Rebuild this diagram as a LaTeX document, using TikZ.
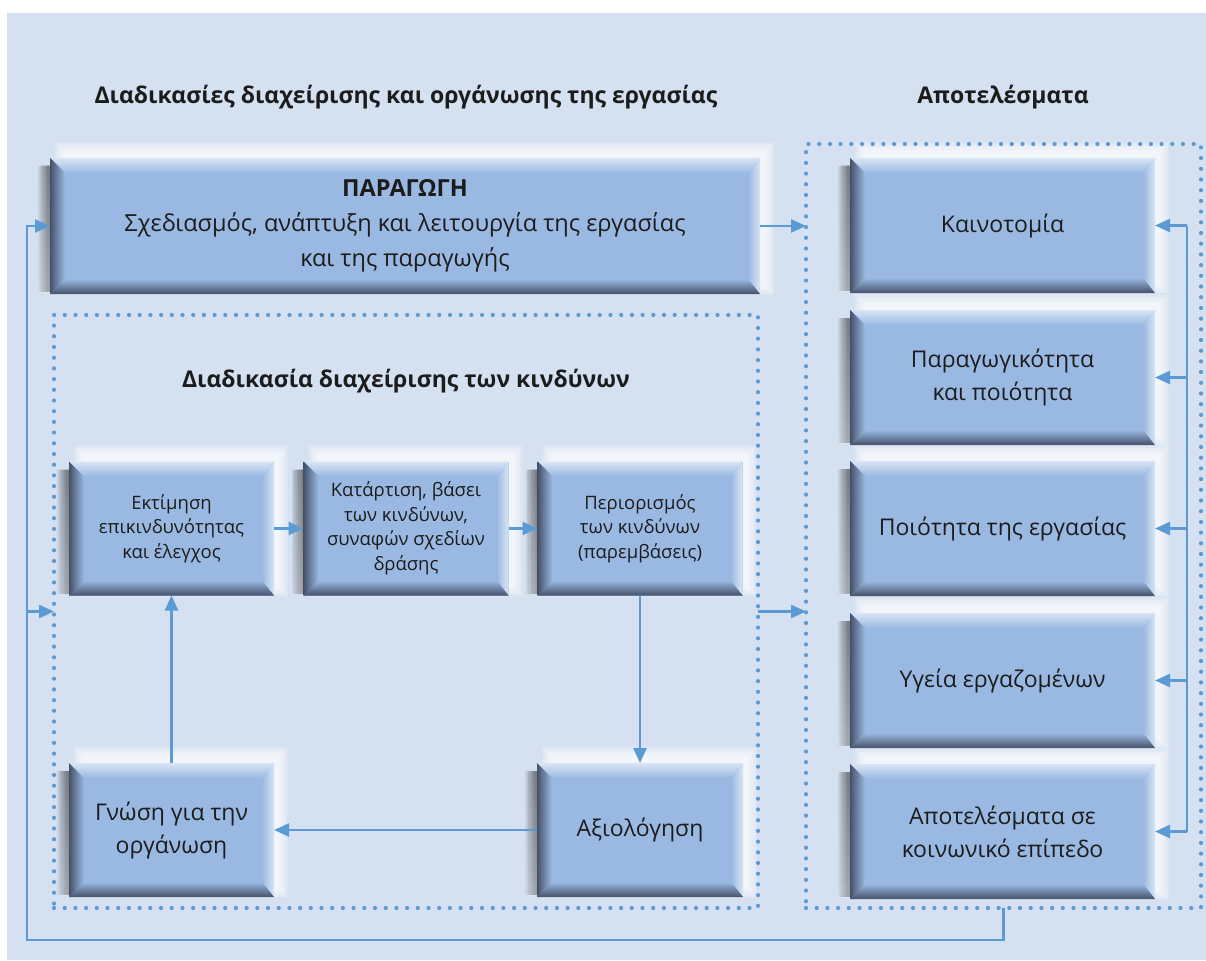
\documentclass[tikz,border=0pt]{standalone}
\usepackage{fontspec}
\setmainfont{Open Sans}
\usetikzlibrary{arrows.meta,calc}

\definecolor{panel}{HTML}{D5E0F1}
\definecolor{face}{HTML}{9AB9E2}
\definecolor{facehi}{HTML}{D9E5F5}
\definecolor{edge}{HTML}{44516A}
\definecolor{shade}{HTML}{55607A}
\definecolor{link}{HTML}{5B9BD5}
\definecolor{ink}{HTML}{1C1C1C}

\pgfdeclarelayer{base}
\pgfdeclarelayer{glow}
\pgfsetlayers{base,glow,main}

\tikzset{
  card/.style={fill=face, inner sep=0pt, outer sep=0pt, align=center, text=ink},
  smallcard/.style={card, minimum width=205pt, minimum height=134pt, font=\fontsize{18.5}{24.5}\selectfont},
  bigcard/.style={card, minimum width=305pt, minimum height=135pt, font=\fontsize{23}{33}\selectfont},
  heading/.style={font=\fontsize{23}{28}\selectfont\bfseries, text=ink},
  dotframe/.style={draw=link, line width=4.2pt, line cap=round, dash pattern=on 0pt off 10.7pt,
    inner sep=0pt, outer sep=0pt},
  arr/.style={draw=link, line width=2.4pt, -{Triangle[length=15pt,width=13pt]}},
  wire/.style={draw=link, line width=2.4pt},
}

% soft white light behind a card (up and right) and a soft shade on its left
\newcommand\cardhalo[1]{%
  \foreach \k in {0,...,7} {
    \fill[white, opacity=0.16] let \p1=(#1.north west), \p2=(#1.south east) in
      (\x1+14pt-\k*1.3pt,\y2+8pt-\k*1.3pt) rectangle (\x2+5pt+\k*1.3pt,\y1+7pt+\k*1.3pt);
  }
  \foreach \k in {0,...,9} {
    \fill[shade, opacity=0.05] let \p1=(#1.north west), \p2=(#1.south east) in
      (\x1-\k*1.3pt,\y2+2pt) rectangle (\x1+30pt,\y1-8pt);
  }
}

% mitred bevel of a card: light at the top and right, dark at the bottom and left
\newcommand\cardrim[1]{%
  \shade[top color=facehi, bottom color=face] let \p1=(#1.north west), \p2=(#1.south east) in
    (\x1,\y1) -- (\x2,\y1) -- (\x2-12pt,\y1-15pt) -- (\x1+15pt,\y1-15pt) -- cycle;
  \shade[left color=face, right color=facehi] let \p1=(#1.north west), \p2=(#1.south east) in
    (\x2,\y1) -- (\x2,\y2) -- (\x2-12pt,\y2+15pt) -- (\x2-12pt,\y1-15pt) -- cycle;
  \shade[top color=face, bottom color=edge] let \p1=(#1.north west), \p2=(#1.south east) in
    (\x1,\y2) -- (\x2,\y2) -- (\x2-12pt,\y2+15pt) -- (\x1+15pt,\y2+15pt) -- cycle;
  \shade[left color=edge, right color=face] let \p1=(#1.north west), \p2=(#1.south east) in
    (\x1,\y1) -- (\x1+15pt,\y1-15pt) -- (\x1+15pt,\y2+15pt) -- (\x1,\y2) -- cycle;
}

\begin{document}
\begin{tikzpicture}[x=1pt,y=-1pt]
\useasboundingbox (0,0) rectangle (1206,960);
\begin{pgfonlayer}{base}
\fill[panel] (7,13) rectangle (1206,960);
\end{pgfonlayer}

% headings
\node[heading] (h1) at (406,97) {Διαδικασίες διαχείρισης και οργάνωσης της εργασίας};
\node[heading] (h2) at (1003,97) {Αποτελέσματα};
\node[heading] (h3) at (406,381) {Διαδικασία διαχείρισης των κινδύνων};

% dotted frames
\node[dotframe, minimum width=704pt, minimum height=593pt] (lc) at (406,611.5) {};
\node[dotframe, minimum width=395pt, minimum height=764pt] (rc) at (1003.5,526) {};

% production
\node[card, minimum width=710pt, minimum height=136pt, font=\fontsize{23.5}{35}\selectfont] (prod) at (405,226)
  {\textbf{ΠΑΡΑΓΩΓΗ}\\Σχεδιασμός, ανάπτυξη και λειτουργία της εργασίας\\και της παραγωγής};

% outcomes
\node[bigcard] (res1) at (1002.5,225.5) {Καινοτομία};
\node[bigcard] (res2) at (1002.5,377.5) {Παραγωγικότητα\\και ποιότητα};
\node[bigcard] (res3) at (1002.5,528.5) {Ποιότητα της εργασίας};
\node[bigcard] (res4) at (1002.5,680.5) {Υγεία εργαζομένων};
\node[bigcard] (res5) at (1002.5,831.5) {Αποτελέσματα σε\\κοινωνικό επίπεδο};

% risk management cycle
\node[smallcard] (r1) at (171.5,528.5) {Εκτίμηση\\επικινδυνότητας\\και έλεγχος};
\node[smallcard] (r2) at (406,528.5) {Κατάρτιση, βάσει\\των κινδύνων,\\συναφών σχεδίων\\δράσης};
\node[smallcard] (r3) at (640,528.5) {Περιορισμός\\των κινδύνων\\(παρεμβάσεις)};
\node[bigcard, minimum width=206pt, minimum height=134pt] (eval) at (640,830) {Αξιολόγηση};
\node[bigcard, minimum width=205pt, minimum height=134pt] (know) at (171.5,830) {Γνώση για την\\οργάνωση};

\begin{pgfonlayer}{glow}
\foreach \nm in {prod,res1,res2,res3,res4,res5,r1,r2,r3,eval,know} {\cardhalo{\nm}}
\end{pgfonlayer}
\foreach \nm in {prod,res1,res2,res3,res4,res5,r1,r2,r3,eval,know} {\cardrim{\nm}}

% connectors
\coordinate (fb) at (1187,230);
\coordinate (lb) at (27,940);

\draw[arr] (prod.east) -- (prod.east -| rc.west);
\draw[arr] (lc.east) -- (lc.east -| rc.west);

\draw[wire] (res1.east -| fb) -- (res5.east -| fb);
\foreach \nm in {res1,res2,res3,res4,res5} {\draw[arr] (\nm.east -| fb) -- (\nm.east);}

\draw[arr] (rc.south) |- (lb) |- (prod.west);
\draw[arr] (lc.west -| lb) -- (lc.west);

\draw[arr] (r1) -- (r2);
\draw[arr] (r2) -- (r3);
\draw[arr] (r3.south) -- (eval.north);
\draw[arr] (eval.west) -- (know.east);
\draw[arr] (know.north) -- (r1.south);
\end{tikzpicture}
\end{document}
